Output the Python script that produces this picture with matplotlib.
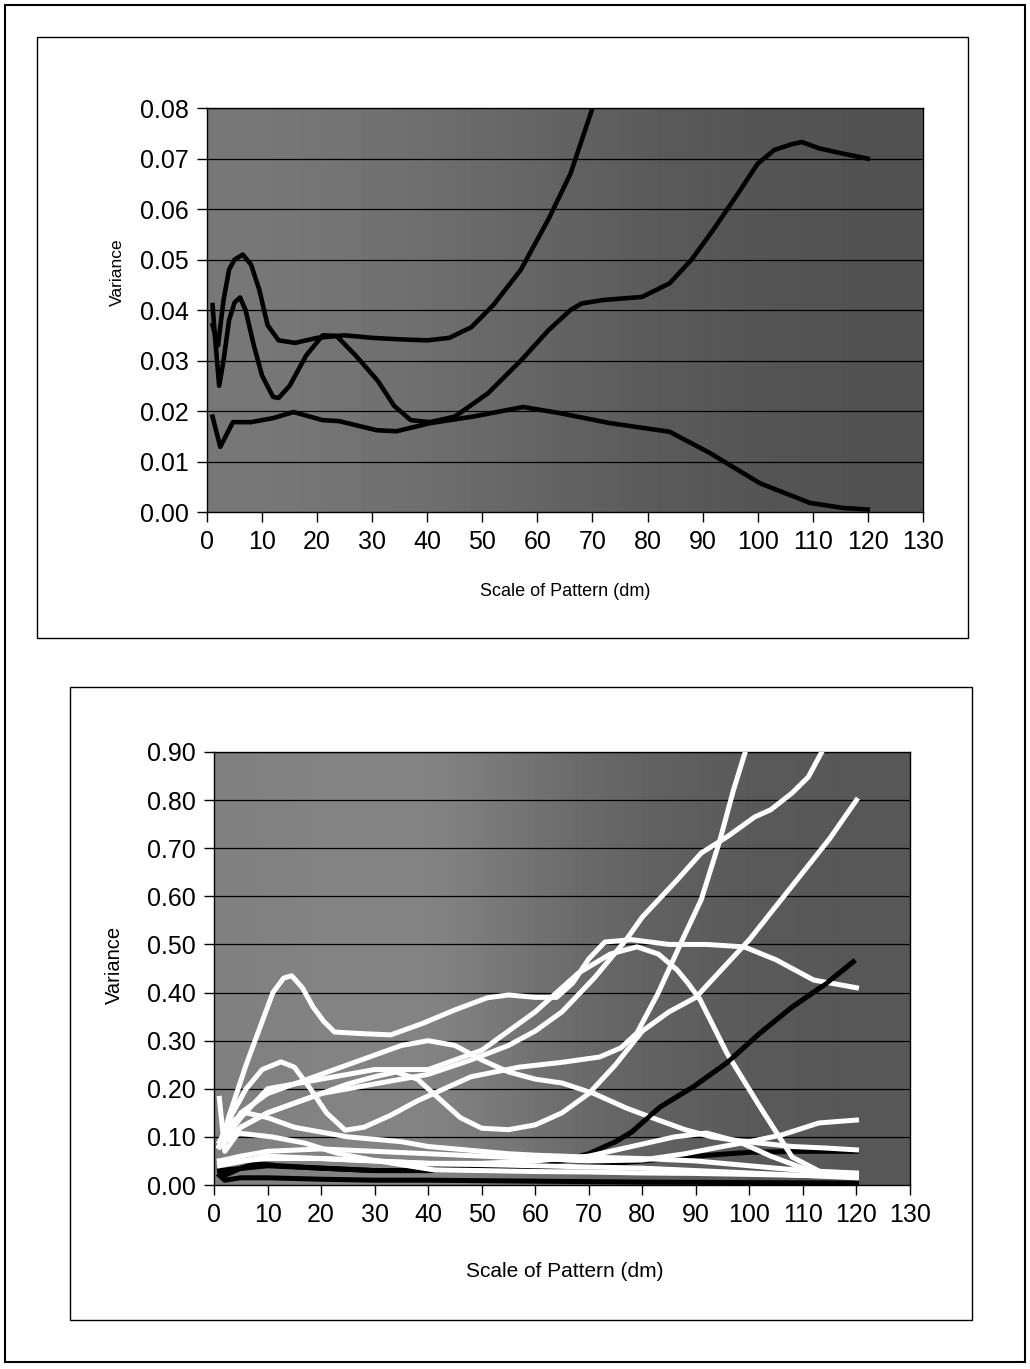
import numpy as np
import matplotlib
matplotlib.use("Agg")
import matplotlib.pyplot as plt
from matplotlib.patches import Rectangle

plt.rcParams['font.family'] = ['Liberation Sans', 'DejaVu Sans']

# ---------------- top chart data (variance vs scale, dm) ----------------
top_a_x = [1, 2, 3, 4, 5, 6.5, 8, 9.5, 11, 13, 16, 20, 25, 30, 35, 40, 44, 48, 52, 57, 62, 66, 70, 71]
top_a_y = [0.037, 0.033, 0.042, 0.048, 0.050, 0.051, 0.049, 0.044, 0.037, 0.034, 0.0335, 0.0345,
           0.035, 0.0345, 0.0342, 0.034, 0.0345, 0.0366, 0.041, 0.048, 0.058, 0.067, 0.080, 0.083]

top_b_x = [1, 1.5, 2.2, 3, 4, 5, 6, 7, 8.5, 10, 12, 13, 15, 18, 21, 23.5, 27, 31, 34, 37, 40.5, 45,
           51, 57, 62, 66, 68, 72, 79, 84, 88, 92, 96, 100, 103, 106, 108, 111, 115, 120]
top_b_y = [0.041, 0.034, 0.025, 0.030, 0.038, 0.0415, 0.0425, 0.040, 0.033, 0.027, 0.0228, 0.0226,
           0.025, 0.031, 0.0350, 0.0349, 0.031, 0.026, 0.021, 0.0182, 0.0178, 0.0189, 0.0235, 0.030,
           0.036, 0.040, 0.0413, 0.0420, 0.0426, 0.0453, 0.050, 0.056, 0.0624, 0.069, 0.0717, 0.0728,
           0.0733, 0.0721, 0.0711, 0.070]

top_c_x = [1, 2.4, 4.7, 8, 12, 15.7, 21, 24, 30.8, 34.4, 40.5, 48.3, 57.4, 64, 73.2, 84, 91.3, 100.4,
           109.5, 115.5, 120]
top_c_y = [0.0189, 0.0129, 0.0178, 0.0178, 0.0186, 0.0198, 0.0182, 0.0180, 0.0162, 0.0160, 0.0176,
           0.0189, 0.0208, 0.0196, 0.0176, 0.0159, 0.0117, 0.0057, 0.0018, 0.0008, 0.0005]

top_yticks = [0.00, 0.01, 0.02, 0.03, 0.04, 0.05, 0.06, 0.07, 0.08]
xticks = list(range(0, 131, 10))

# ---------------- bottom chart data ----------------
w1_x = [1, 3, 6, 9, 11, 13, 14.5, 16.5, 18.5, 20.5, 22.5, 27, 33, 39, 45, 51, 55, 60, 64, 67, 70,
        73, 78, 85, 92, 99, 105, 112, 120]
w1_y = [0.08, 0.15, 0.25, 0.34, 0.40, 0.43, 0.435, 0.41, 0.37, 0.34, 0.318, 0.315, 0.312, 0.336,
        0.364, 0.389, 0.395, 0.39, 0.39, 0.42, 0.47, 0.505, 0.51, 0.50, 0.50, 0.495, 0.468, 0.426, 0.41]

w2_x = [1, 3, 6, 9, 12.5, 15, 18, 21, 24.5, 28, 33, 38, 43, 48, 57, 65, 72, 76, 79, 83, 87.5, 91,
        94.5, 97, 99.5]
w2_y = [0.08, 0.14, 0.20, 0.24, 0.256, 0.245, 0.20, 0.15, 0.114, 0.12, 0.145, 0.175, 0.20, 0.225,
        0.245, 0.255, 0.266, 0.285, 0.316, 0.40, 0.51, 0.593, 0.717, 0.82, 0.91]

w3_x = [1, 5, 10, 20, 30, 40, 48, 55, 60, 65, 71, 77, 80, 86.5, 91, 96, 101, 104, 108, 111, 114]
w3_y = [0.08, 0.12, 0.15, 0.19, 0.21, 0.23, 0.26, 0.29, 0.32, 0.36, 0.43, 0.51, 0.557, 0.634, 0.69,
        0.725, 0.765, 0.78, 0.815, 0.848, 0.91]

w4_x = [1, 5, 10, 15, 20, 25, 30, 34, 38, 42, 46, 50, 55, 60, 65, 70, 75, 80, 85, 90, 95, 100, 105,
        110, 115, 120]
w4_y = [0.08, 0.12, 0.15, 0.17, 0.19, 0.21, 0.225, 0.235, 0.22, 0.18, 0.14, 0.118, 0.115, 0.125,
        0.15, 0.19, 0.25, 0.32, 0.36, 0.39, 0.45, 0.51, 0.58, 0.65, 0.72, 0.80]

w5_x = [1, 5, 10, 20, 30, 40, 50, 60, 68, 74, 79, 83, 86.5, 88.5, 90.8, 95.8, 102, 108, 113.7]
w5_y = [0.08, 0.14, 0.20, 0.22, 0.24, 0.24, 0.28, 0.36, 0.44, 0.48, 0.495, 0.48, 0.447, 0.42, 0.385,
        0.274, 0.162, 0.058, 0.025]

w6_x = [1, 5, 10, 15, 20, 25, 30, 35, 40, 45, 50, 55, 60, 65, 71, 77, 83, 88, 93, 98, 102, 108, 114, 120]
w6_y = [0.08, 0.15, 0.19, 0.21, 0.23, 0.25, 0.27, 0.29, 0.30, 0.29, 0.26, 0.235, 0.22, 0.212, 0.19,
        0.16, 0.135, 0.115, 0.10, 0.092, 0.087, 0.08, 0.077, 0.073]

w7_x = [1, 5, 10, 20, 30, 40, 50, 60, 70, 80, 88, 95, 100, 106, 113, 120]
w7_y = [0.05, 0.06, 0.07, 0.075, 0.07, 0.065, 0.06, 0.055, 0.05, 0.052, 0.065, 0.08, 0.09, 0.104,
        0.129, 0.135]

w8_x = [1, 2, 4.5, 10.8, 17, 23, 29.5, 41.3, 50, 60, 70, 80, 90, 100, 110, 120]
w8_y = [0.18, 0.07, 0.108, 0.10, 0.087, 0.066, 0.052, 0.031, 0.03, 0.028, 0.027, 0.025, 0.024, 0.022,
        0.02, 0.018]

w9_x = [1, 3, 6, 10, 15, 20, 25, 30, 35, 40, 45, 50, 55, 60, 70, 80, 90, 100, 110, 120]
w9_y = [0.09, 0.13, 0.15, 0.14, 0.12, 0.11, 0.10, 0.095, 0.09, 0.08, 0.075, 0.07, 0.065, 0.062,
        0.058, 0.055, 0.05, 0.04, 0.03, 0.025]

w10_x = [1, 5, 10, 20, 30, 40, 50, 60, 70, 80, 86, 92, 98, 104, 110, 114]
w10_y = [0.05, 0.05, 0.055, 0.055, 0.05, 0.045, 0.045, 0.05, 0.06, 0.085, 0.10, 0.108, 0.09, 0.06,
         0.035, 0.02]

w11_x = [1, 10, 20, 40, 60, 80, 100, 110, 120]
w11_y = [0.04, 0.06, 0.055, 0.045, 0.04, 0.035, 0.025, 0.02, 0.015]

k1_x = [1, 10, 20, 30, 40, 50, 60, 65, 70, 75, 78, 83.3, 89.5, 95.8, 102, 108, 114.5, 119.4]
k1_y = [0.03, 0.04, 0.035, 0.03, 0.03, 0.032, 0.04, 0.05, 0.065, 0.09, 0.11, 0.162, 0.204, 0.254,
        0.316, 0.37, 0.42, 0.464]

k2_x = [1, 2, 5, 8, 12, 20, 30, 40, 50, 60, 70, 80, 90, 100, 110, 120]
k2_y = [0.04, 0.02, 0.035, 0.045, 0.04, 0.035, 0.03, 0.03, 0.032, 0.035, 0.04, 0.05, 0.06, 0.068,
        0.07, 0.07]

k3_x = [1, 2, 5, 10, 20, 30, 40, 60, 80, 100, 120]
k3_y = [0.02, 0.01, 0.015, 0.015, 0.012, 0.01, 0.01, 0.008, 0.006, 0.005, 0.004]

bottom_white = [(w1_x, w1_y), (w2_x, w2_y), (w3_x, w3_y), (w4_x, w4_y), (w5_x, w5_y),
                (w6_x, w6_y), (w7_x, w7_y), (w8_x, w8_y), (w9_x, w9_y), (w10_x, w10_y),
                (w11_x, w11_y)]
bottom_black = [(k1_x, k1_y), (k2_x, k2_y), (k3_x, k3_y)]

bottom_yticks = [0.0, 0.1, 0.2, 0.3, 0.4, 0.5, 0.6, 0.7, 0.8, 0.9]


def style_axes(ax, ymax, yticks, shade):
    # textured gray plot area of the scanned chart, approximated by a soft gradient
    ax.imshow(np.array([shade]), cmap='gray', vmin=0, vmax=1, aspect='auto',
              extent=[0, 130, 0, ymax], interpolation='bicubic', zorder=0)
    ax.set_xlim(0, 130)
    ax.set_ylim(0, ymax)
    ax.set_xticks(xticks)
    ax.set_yticks(yticks)
    ax.set_yticklabels(['%.2f' % v for v in yticks])
    for v in yticks[1:]:
        ax.axhline(v, color='black', lw=0.9, zorder=1)
    ax.tick_params(axis='both', direction='out', length=7, width=1, labelsize=18, pad=6,
                   colors='black')
    for s in ax.spines.values():
        s.set_color('black')
        s.set_linewidth(1)


fig = plt.figure(figsize=(10.30, 13.69), dpi=100)

# frames of the scanned page
fig.patches.append(Rectangle((0.005, 0.005), 0.990, 0.991, transform=fig.transFigure,
                             fill=False, ec='black', lw=1.5))
fig.patches.append(Rectangle((0.036, 0.534), 0.904, 0.439, transform=fig.transFigure,
                             fill=False, ec='black', lw=1.0))
fig.patches.append(Rectangle((0.068, 0.036), 0.876, 0.462, transform=fig.transFigure,
                             fill=False, ec='black', lw=1.0))

# top chart
ax1 = fig.add_axes([0.201, 0.626, 0.695, 0.295])
style_axes(ax1, 0.08, top_yticks, [0.47, 0.42, 0.35, 0.32])
for xs, ys in [(top_a_x, top_a_y), (top_b_x, top_b_y), (top_c_x, top_c_y)]:
    ax1.plot(xs, ys, color='black', lw=3.3, solid_joinstyle='round', zorder=3, clip_on=True)
ax1.set_xlabel('Scale of Pattern (dm)', fontsize=13)
ax1.xaxis.set_label_coords(0.5, -0.176)
ax1.set_ylabel('Variance', fontsize=12.5)
ax1.yaxis.set_label_coords(-0.115, 0.594)

# bottom chart
ax2 = fig.add_axes([0.2078, 0.1344, 0.6757, 0.3163])
style_axes(ax2, 0.9, bottom_yticks, [0.50, 0.54, 0.42, 0.36, 0.34])
for xs, ys in bottom_black:
    ax2.plot(xs, ys, color='black', lw=3.6, solid_joinstyle='round', zorder=3)
for xs, ys in bottom_white:
    ax2.plot(xs, ys, color='white', lw=3.6, solid_joinstyle='round', zorder=4)
ax2.plot(k1_x[9:], k1_y[9:], color='black', lw=3.3, solid_joinstyle='round', zorder=5)
ax2.set_xlabel('Scale of Pattern (dm)', fontsize=15)
ax2.xaxis.set_label_coords(0.504, -0.178)
ax2.set_ylabel('Variance', fontsize=14.5)
ax2.yaxis.set_label_coords(-0.13, 0.508)

fig.savefig('out.png', dpi=100)
